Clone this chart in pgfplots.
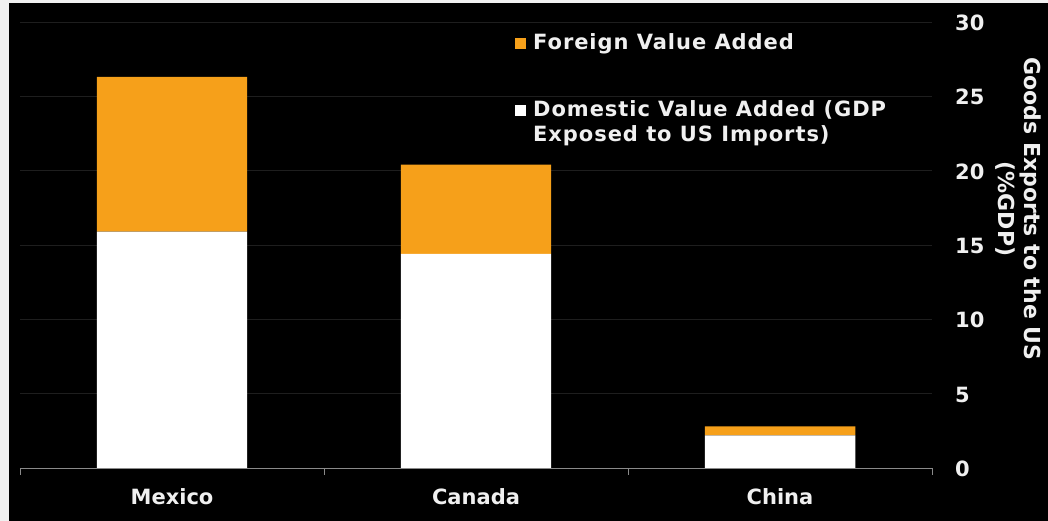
\documentclass[border=0pt]{standalone}
\usepackage{pgfplots}
\pgfplotsset{compat=1.18}
\usepackage{fontspec}
\setmainfont{DejaVu Sans}
\definecolor{orng}{HTML}{F6A01A}
\definecolor{txt}{HTML}{F0F0F0}
\definecolor{grd}{HTML}{1E1E1E}
\definecolor{axl}{HTML}{8A8A8A}
\newfontfamily\legfont[LetterSpace=4.5]{DejaVu Sans}
\begin{document}
\begin{tikzpicture}
\useasboundingbox (0pt,0pt) rectangle (1048pt,521pt);
\fill[white!88!gray] (0pt,0pt) rectangle (1048pt,521pt);
\fill[black] (9pt,0pt) rectangle (1048pt,518pt);
\begin{axis}[
  at={(20pt,53pt)}, anchor=south west,
  scale only axis, width=912pt, height=446pt,
  xmin=-0.5, xmax=2.5, ymin=0, ymax=30,
  ybar stacked, bar width=0.495,
  axis x line*=bottom, axis y line*=right,
  x axis line style={draw=axl, line width=0.8pt},
  y axis line style={draw=none},
  xtick={0,1,2}, xticklabels={Mexico,Canada,China},
  ytick={0,5,...,30},
  major tick length=7pt, tick align=outside,
  xtick style={draw=none}, ytick style={draw=none},
  extra x ticks={-0.5,0.5,1.5,2.5}, extra x tick labels={},
  extra x tick style={grid=none, xtick style={draw=axl, line width=0.8pt}},
  ymajorgrids, major grid style={draw=grd, line width=0.8pt},
  /pgf/number format/assume math mode=true,
  tick label style={font=\fontsize{21}{21}\selectfont\bfseries, text=txt},
  yticklabel style={anchor=west, inner sep=0pt, xshift=16pt, yshift=-1pt},
  xticklabel style={anchor=base, inner sep=0pt, yshift=-29pt},
  clip=false,
]
\addplot[fill=white, draw=none] coordinates {(0,15.9) (1,14.4) (2,2.2)};
\addplot[fill=orng, draw=none] coordinates {(0,10.4) (1,6.0) (2,0.6)};
\end{axis}
% legend
\fill[orng] (515pt,472pt) rectangle (526pt,483pt);
\node[anchor=base west, inner sep=0pt, text=txt, font=\fontsize{21}{21}\legfont\bfseries] at (533pt,471.7pt) {Foreign Value Added};
\fill[white] (515pt,405pt) rectangle (526pt,416pt);
\node[anchor=base west, inner sep=0pt, text=txt, font=\fontsize{21}{21}\legfont\bfseries] at (533pt,404.3pt) {Domestic Value Added (GDP};
\node[anchor=base west, inner sep=0pt, text=txt, font=\fontsize{21}{21}\legfont\bfseries] at (533pt,379.3pt) {Exposed to US Imports)};
% y label
\node[rotate=-90, align=center, inner sep=0pt, text=txt, font=\fontsize{22}{26}\selectfont\bfseries] at (1018pt,312pt) {Goods Exports to the US\\(\%GDP)};
\end{tikzpicture}
\end{document}
